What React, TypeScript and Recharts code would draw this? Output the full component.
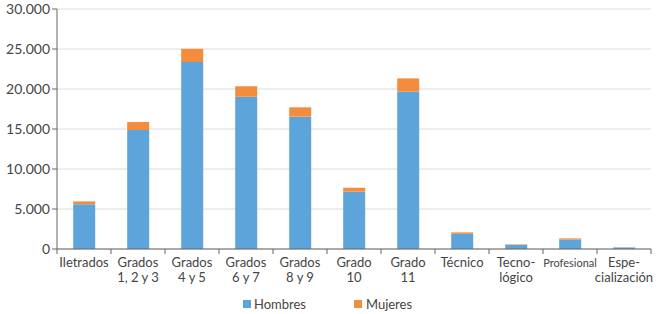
import React from 'react';
import { BarChart, Bar, XAxis, YAxis, CartesianGrid } from 'recharts';

const categories = [
  'Iletrados',
  'Grados\n1, 2 y 3',
  'Grados\n4 y 5',
  'Grados\n6 y 7',
  'Grados\n8 y 9',
  'Grado\n10',
  'Grado\n11',
  'Técnico',
  'Tecno-\nlógico',
  'Profesional',
  'Espe-\ncialización',
];
const hombres = [5600, 14875, 23375, 19040, 16540, 7160, 19660, 1900, 520, 1170, 190];
const mujeres = [350, 1000, 1650, 1300, 1170, 500, 1670, 180, 60, 160, 30];
const yTicks = [0, 5000, 10000, 15000, 20000, 25000, 30000];

const BLUE = '#5da4da';
const ORANGE = '#f38d3d';
const TEXT = '#454545';
const AXIS = '#666';
const FONT = 'Lato, "Open Sans", sans-serif';
const GAP = 10;

const data = categories.map((name, i) => ({ name, hombres: hombres[i], mujeres: mujeres[i] }));

const fmt = (v: number) => String(v).replace(/\B(?=(\d{3})+(?!\d))/g, '.');

// category labels, plus tick marks drawn at the band edges
const CategoryTick = (props: any) => {
  const { x, y, payload, index, width } = props;
  const lines = String(payload.value).split('\n');
  const small = payload.value === 'Profesional';
  const half = payload.offset || (width ? width / categories.length / 2 : 27);
  const axisY = y - GAP;
  return (
    <g>
      <line x1={x - half} x2={x - half} y1={axisY} y2={axisY + 5} stroke={AXIS} />
      {index === categories.length - 1 && (
        <line x1={x + half} x2={x + half} y1={axisY} y2={axisY + 5} stroke={AXIS} />
      )}
      <text
        x={x}
        y={y}
        textAnchor="middle"
        fill={TEXT}
        fontSize={small ? 11 : 13}
        fontFamily={FONT}
      >
        {lines.map((l, i) => (
          <tspan key={i} x={x} dy={i === 0 ? 8 : 15}>
            {l}
          </tspan>
        ))}
      </text>
    </g>
  );
};

const LegendBox = () => (
  <div
    style={{
      position: 'absolute',
      left: 0,
      top: 296,
      width: 665,
      display: 'flex',
      justifyContent: 'center',
      fontFamily: FONT,
      fontSize: 13,
      color: TEXT,
    }}
  >
    <div style={{ display: 'flex', alignItems: 'center', marginLeft: -10 }}>
      <span style={{ width: 8, height: 8, background: BLUE, display: 'inline-block', marginRight: 3 }} />
      Hombres
    </div>
    <div style={{ display: 'flex', alignItems: 'center', marginLeft: 48 }}>
      <span style={{ width: 8, height: 8, background: ORANGE, display: 'inline-block', marginRight: 4 }} />
      Mujeres
    </div>
  </div>
);

export default function App() {
  return (
    <div style={{ position: 'absolute', left: 0, top: 0, width: 665, height: 314, background: '#fff' }}>
      <BarChart
        width={665}
        height={314}
        data={data}
        margin={{ top: 9, right: 14, left: 0, bottom: 25 }}
        barCategoryGap="30%"
      >
        <CartesianGrid vertical={false} stroke="#dcdcdc" />
        <XAxis
          dataKey="name"
          height={40}
          stroke={AXIS}
          tickLine={false}
          tickSize={0}
          tickMargin={GAP}
          interval={0}
          tick={<CategoryTick />}
        />
        <YAxis
          width={57}
          domain={[0, 30000]}
          ticks={yTicks}
          tickFormatter={fmt}
          stroke={AXIS}
          tickSize={5}
          tick={{ fill: TEXT, fontSize: 14, fontFamily: FONT }}
        />
        <Bar dataKey="hombres" stackId="a" fill={BLUE} isAnimationActive={false} />
        <Bar dataKey="mujeres" stackId="a" fill={ORANGE} isAnimationActive={false} />
      </BarChart>
      <LegendBox />
    </div>
  );
}
